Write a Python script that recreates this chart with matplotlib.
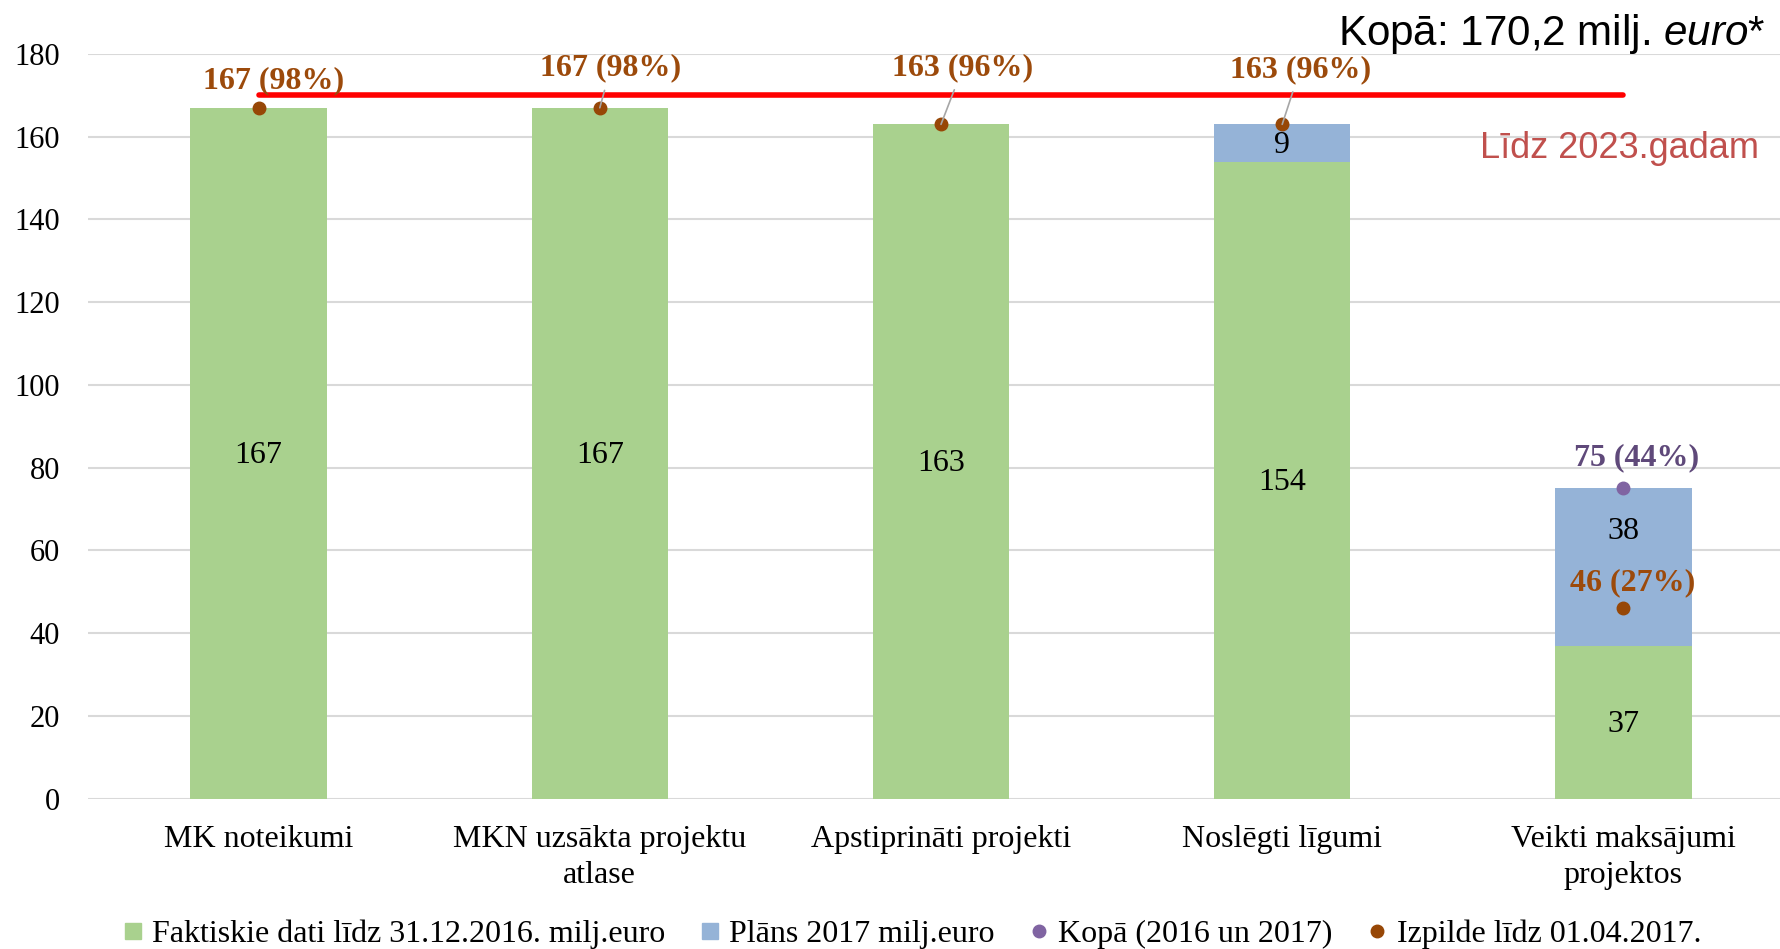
import matplotlib.pyplot as plt
from matplotlib.lines import Line2D
import numpy as np

# dati
categories = ['MK noteikumi', 'MKN uzsākta projektu\natlase', 'Apstiprināti projekti',
              'Noslēgti līgumi', 'Veikti maksājumi\nprojektos']
fakt = [167, 167, 163, 154, 37]          # Faktiskie dati līdz 31.12.2016.
plans = [0, 0, 0, 9, 38]                 # Plāns 2017
kopa = [167, 167, 163, 163, 75]          # Kopā (2016 un 2017)
kopa_pct = [98, 98, 96, 96, 44]
izpilde = [167, 167, 163, 163, 46]       # Izpilde līdz 01.04.2017.
izpilde_pct = [98, 98, 96, 96, 27]
total = 170.2

legend_labels = ['Faktiskie dati līdz 31.12.2016. milj.euro', 'Plāns 2017 milj.euro',
                 'Kopā (2016 un 2017)', 'Izpilde līdz 01.04.2017.']

GREEN = '#A9D18E'
BLUE = '#95B3D7'
PURPLE = '#8064A2'
ORANGE = '#974706'
ORANGE_TXT = '#9C4A0B'
PURPLE_TXT = '#5F497A'

plt.rcParams['font.family'] = ['Liberation Serif', 'DejaVu Serif']
plt.rcParams['mathtext.fontset'] = 'custom'
plt.rcParams['mathtext.rm'] = 'Liberation Sans'
plt.rcParams['mathtext.it'] = 'Liberation Sans:italic'

fig = plt.figure(figsize=(17.81, 9.49), dpi=100)
ax = fig.add_axes([88 / 1781, 150.3 / 949, 1706 / 1781, 744.7 / 949])

x = np.arange(len(categories))
ax.bar(x, fakt, width=0.4, color=GREEN, zorder=2)
ax.bar(x, plans, width=0.4, bottom=fakt, color=BLUE, zorder=2)

ax.set_xlim(-0.5, 4.5)
ax.set_ylim(0, 180)
ax.set_yticks(range(0, 181, 20))
ax.set_xticks(x)
ax.set_xticklabels(categories, fontsize=23, linespacing=1.3)
ax.tick_params(axis='y', length=0, pad=20, labelsize=22)
ax.tick_params(axis='x', length=0, pad=19)
ax.grid(axis='y', color='#D9D9D9', lw=1.5, zorder=0)
for s in ax.spines.values():
    s.set_visible(False)

# sarkanā līnija - kopā
ax.plot([x[0], x[-1]], [total, total], color='#FF0000', lw=4, solid_capstyle='round', zorder=3)

# vērtības stabiņos
for i in range(len(x)):
    ax.text(x[i], fakt[i] / 2 - 0.6, f'{fakt[i]}', ha='center', va='center', fontsize=23, zorder=4)
    if plans[i] > 0 and i != 4:
        ax.text(x[i], fakt[i] + plans[i] / 2 - 0.6, f'{plans[i]}', ha='center', va='center',
                fontsize=23, zorder=4)
# 38 pārvietots augstāk
ax.text(x[4], 64.5, f'{plans[4]}', ha='center', va='center', fontsize=23, zorder=4)

# punkti
ax.plot(x[4], kopa[4], 'o', color=PURPLE, ms=9, zorder=5)
ax.plot(x, izpilde, 'o', color=ORANGE, ms=9, ls='none', zorder=6)

# etiķetes (nobīde pikseļos)
offsets = [(15, 27), (11, 40), (22, 57), (18, 55), (9, 26)]
leader = [False, True, True, True, False]
for i in range(len(x)):
    dx, dy = offsets[i]
    props = None
    if leader[i]:
        props = dict(arrowstyle='-', color='#A6A6A6', lw=1.2, shrinkA=4, shrinkB=0)
    ax.annotate(f'{izpilde[i]} ({izpilde_pct[i]}%)', xy=(x[i], izpilde[i]),
                xytext=(dx * 0.72, dy * 0.72), textcoords='offset points',
                ha='center', va='center', fontsize=23, fontweight='bold',
                color=ORANGE_TXT, arrowprops=props, zorder=7)
ax.annotate(f'{kopa[4]} ({kopa_pct[4]}%)', xy=(x[4], kopa[4]), xytext=(13 * 0.72, 31 * 0.72),
            textcoords='offset points', ha='center', va='center', fontsize=23,
            fontweight='bold', color=PURPLE_TXT, zorder=7)

# teksti augšā
fig.text(1338 / 1781, 1 - 45 / 949, r'Kopā: 170,2 milj. $\it{euro}$*', ha='left', va='baseline',
         fontsize=30.3, family='Liberation Sans')
fig.text(1480 / 1781, 1 - 158 / 949, 'Līdz 2023.gadam', ha='left', va='baseline',
         fontsize=26, family='Liberation Sans', color='#C0504D')

# leģenda
handles = [Line2D([], [], marker='s', ls='none', color=GREEN, ms=11),
           Line2D([], [], marker='s', ls='none', color=BLUE, ms=11),
           Line2D([], [], marker='o', ls='none', color=PURPLE, ms=9),
           Line2D([], [], marker='o', ls='none', color=ORANGE, ms=9)]
fig.legend(handles, legend_labels, ncol=4, loc='center', bbox_to_anchor=(912 / 1781, 1 - 934 / 949),
           frameon=False, fontsize=23, handlelength=0.6, handletextpad=0.3, columnspacing=1.1,
           borderaxespad=0, borderpad=0)

fig.savefig('out.png', dpi=100)
